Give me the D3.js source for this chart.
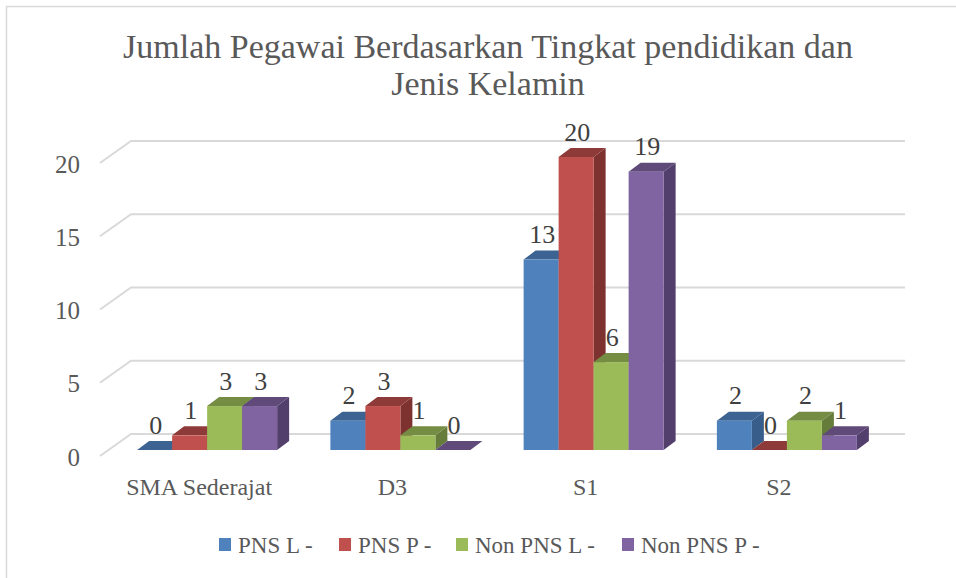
<!DOCTYPE html>
<html>
<head>
<meta charset="utf-8">
<style>
body { margin: 0; background: #fff; }
text { font-family: "Liberation Serif", serif; }
</style>
<script src="https://cdn.jsdelivr.net/npm/d3@7/dist/d3.min.js"></script>
</head>
<body>
<div id="canvas"></div>
<script>
const categories = ['SMA Sederajat', 'D3', 'S1', 'S2'];
const seriesNames = ['PNS L -', 'PNS P -', 'Non PNS L -', 'Non PNS P -'];
const pnsL = [0, 2, 13, 2];
const pnsP = [1, 3, 20, 0];
const nonPnsL = [3, 1, 6, 2];
const nonPnsP = [3, 0, 19, 1];
const yTicks = [0, 5, 10, 15, 20];

const width = 956;
const height = 578;
const depthX = 12;
const depthY = 9;

const seriesValues = [pnsL, pnsP, nonPnsL, nonPnsP];
// front, top, side shades
const colors = [
	['#4f81bd', '#3c6391', '#385d8a'],
	['#c0504d', '#8e3a38', '#7d3230'],
	['#9bbb59', '#748d43', '#667c3b'],
	['#8064a2', '#5f4a79', '#533f6c']
];

const svg = d3.select('#canvas').append('svg')
	.attr('width', width)
	.attr('height', height)
	.style('display', 'block');

const x = d3.scaleBand().domain(categories).range([110.5, 883.5]);
const inner = d3.scaleBand().domain(d3.range(4)).range([0, 140]);
const barOffset = (x.bandwidth() - 140) / 2;
const y = d3.scaleLinear().domain([0, 20]).range([450, 157]);

// chart frame, only the top and left edges show in the picture
svg.append('path')
	.attr('d', `M6.5,${height}L6.5,6.5L${width},6.5`)
	.attr('fill', 'none')
	.attr('stroke', '#d9d9d9')
	.attr('stroke-width', 1.5);

// title
svg.append('g').selectAll('text')
	.data(['Jumlah Pegawai Berdasarkan Tingkat pendidikan dan', 'Jenis Kelamin'])
	.enter().append('text')
	.attr('x', 488)
	.attr('y', (d, i) => 58 + i * 37)
	.attr('text-anchor', 'middle')
	.attr('font-size', 34)
	.attr('fill', '#595959')
	.text((d) => d);

// back wall and floor grid
const grid = svg.append('g');
yTicks.forEach((t) => {
	const gy = y(t) - 16;
	grid.append('path')
		.attr('d', `M100,${gy + 22}L131,${gy}L905,${gy}`)
		.attr('fill', 'none')
		.attr('stroke', '#d9d9d9')
		.attr('stroke-width', 2);
});

// y tick labels
svg.append('g').selectAll('text')
	.data(yTicks)
	.enter().append('text')
	.attr('x', 80)
	.attr('y', (d) => y(d) + 15.5)
	.attr('text-anchor', 'end')
	.attr('font-size', 25)
	.attr('fill', '#595959')
	.text((d) => d);

// x category labels
svg.append('g').selectAll('text')
	.data(categories)
	.enter().append('text')
	.attr('x', (d) => x(d) + x.bandwidth() / 2 - 8)
	.attr('y', 495)
	.attr('text-anchor', 'middle')
	.attr('font-size', 24)
	.attr('fill', '#595959')
	.text((d) => d);

// bars, drawn left to right so the neighbour covers the side face
const bars = svg.append('g');
categories.forEach((c, ci) => {
	seriesValues.forEach((values, si) => {
		const v = values[ci];
		const x0 = x(c) + barOffset + inner(si);
		const x1 = x0 + inner.bandwidth();
		const top = y(v);
		const base = y(0);
		const col = colors[si];
		bars.append('path')
			.attr('d', `M${x1},${top}L${x1 + depthX},${top - depthY}L${x1 + depthX},${base - depthY}L${x1},${base}Z`)
			.attr('fill', col[2]);
		bars.append('path')
			.attr('d', `M${x0},${top}L${x0 + depthX},${top - depthY}L${x1 + depthX},${top - depthY}L${x1},${top}Z`)
			.attr('fill', col[1]);
		if (v > 0) {
			bars.append('rect')
				.attr('x', x0)
				.attr('y', top)
				.attr('width', inner.bandwidth())
				.attr('height', base - top)
				.attr('fill', col[0]);
		}
	});
});

// value labels
const labels = svg.append('g');
categories.forEach((c, ci) => {
	seriesValues.forEach((values, si) => {
		labels.append('text')
			.attr('x', x(c) + barOffset + inner(si) + inner.bandwidth() / 2 + 1)
			.attr('y', y(values[ci]) - 16.5)
			.attr('text-anchor', 'middle')
			.attr('font-size', 26)
			.attr('fill', '#404040')
			.text(values[ci]);
	});
});

// legend
const legendX = [219, 339, 456, 622];
const legend = svg.append('g').selectAll('g')
	.data(seriesNames)
	.enter().append('g')
	.attr('transform', (d, i) => `translate(${legendX[i]},538)`);
legend.append('rect')
	.attr('width', 12)
	.attr('height', 13)
	.attr('fill', (d, i) => colors[i][0]);
legend.append('text')
	.attr('x', 19)
	.attr('y', 15)
	.attr('font-size', 23)
	.attr('fill', '#595959')
	.text((d) => d);
</script>
</body>
</html>
